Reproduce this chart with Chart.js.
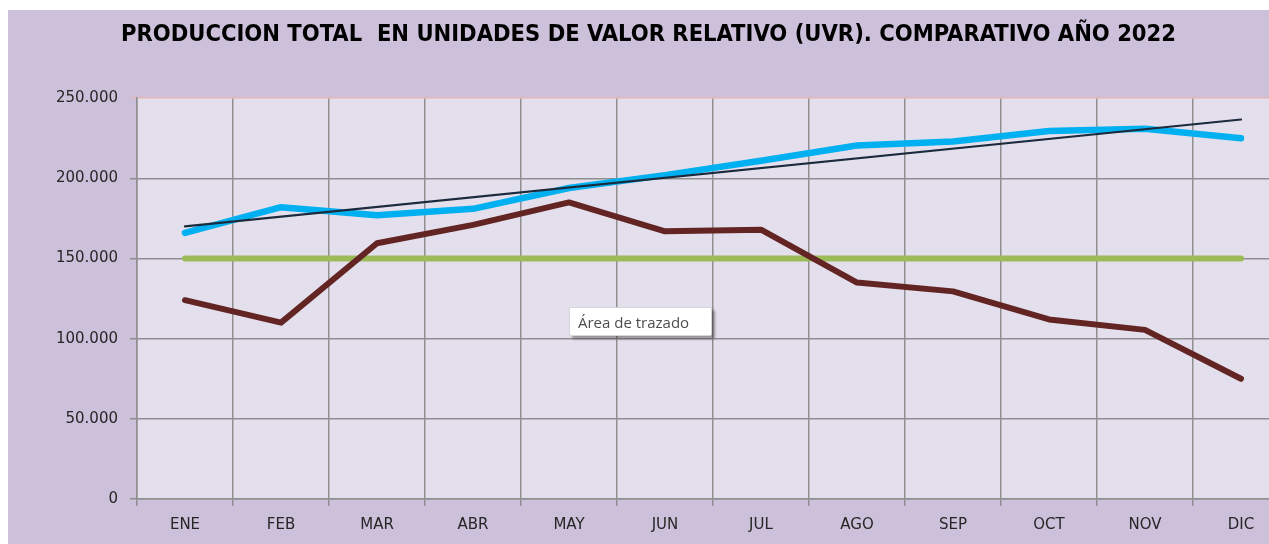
<!DOCTYPE html>
<html lang="es">
<head>
<meta charset="utf-8">
<title>Producción total UVR 2022</title>
<script src="https://cdn.jsdelivr.net/npm/chart.js@4.4.1/dist/chart.umd.min.js"></script>
<style>
  html, body { margin: 0; padding: 0; background: #fff; overflow: hidden; }
  #wrap { position: absolute; left: 8px; top: 10px; width: 1290px; height: 534px; background: #ccc0da; }
  #hint {
    position: absolute; left: 569px; top: 307px; width: 143px; height: 29px;
    background: #fff; border: 1px solid #d6d6d6; border-radius: 2px;
    box-shadow: 3px 3px 3px rgba(0,0,0,0.35);
    font: 15px "Open Sans", sans-serif; color: #4d4d4d; line-height: 29px;
    padding-left: 8px; box-sizing: border-box;
  }
</style>
</head>
<body>
<div id="wrap"><canvas id="chart-uvr" width="1290" height="534"></canvas></div>
<div id="hint">Área de trazado</div>
<script>
// meses
const meses = ['ENE', 'FEB', 'MAR', 'ABR', 'MAY', 'JUN', 'JUL', 'AGO', 'SEP', 'OCT', 'NOV', 'DIC'];

// series (UVR)
const produccion2022 = [166000, 182000, 177000, 181000, 194000, 202000, 211000, 220500, 223000, 229500, 231000, 225000];
const produccionComparada = [124000, 110000, 159500, 171000, 185000, 167000, 168000, 135000, 129500, 112000, 105500, 75000];
const meta = [150000, 150000, 150000, 150000, 150000, 150000, 150000, 150000, 150000, 150000, 150000, 150000];
// linea de tendencia: solo extremos, se unen con spanGaps
const tendencia = [170000, null, null, null, null, null, null, null, null, null, null, 236700];

const yTicks = [0, 50000, 100000, 150000, 200000, 250000];

/** 250000 -> "250.000" */
function fmtMiles(v) {
  return String(v).replace(/\B(?=(\d{3})+(?!\d))/g, '.');
}

// fondo del area de trazado
const plotBg = {
  id: 'plotBg',
  beforeDraw(chart) {
    const { ctx, chartArea: a } = chart;
    ctx.save();
    ctx.fillStyle = '#e4dfec';
    ctx.fillRect(a.left, a.top, a.right - a.left, a.bottom - a.top);
    ctx.restore();
  }
};

const canvas = document.getElementById('chart-uvr');
new Chart(canvas, {
  type: 'line',
  data: {
    labels: meses,
    datasets: [
      { label: 'Tendencia', data: tendencia, borderColor: '#1b2a3c', borderWidth: 2.2, spanGaps: true, pointRadius: 0 },
      { label: 'Producción 2022', data: produccion2022, borderColor: '#00b0f0', borderWidth: 6.5, pointRadius: 0 },
      { label: 'Producción comparada', data: produccionComparada, borderColor: '#632523', borderWidth: 6, pointRadius: 0 },
      { label: 'Meta', data: meta, borderColor: '#9bbb59', borderWidth: 6, pointRadius: 0 }
    ]
  },
  options: {
    responsive: false,
    animation: false,
    layout: { padding: { left: 0, right: 9, top: 0, bottom: 0 } },
    elements: { line: { tension: 0, borderCapStyle: 'round', borderJoinStyle: 'round' } },
    plugins: {
      legend: { display: false },
      tooltip: { enabled: false },
      title: {
        display: true,
        text: 'PRODUCCION TOTAL  EN UNIDADES DE VALOR RELATIVO (UVR). COMPARATIVO AÑO 2022',
        color: '#000',
        font: { family: '"Liberation Sans Narrow", "DejaVu Sans Condensed", sans-serif', size: 23.5, weight: 'bold' },
        padding: { top: 11, bottom: 49 }
      }
    },
    scales: {
      x: {
        offset: true,
        grid: { offset: true, color: '#8f8f8f', lineWidth: 1.5, tickLength: 7 },
        border: { color: '#8f8f8f', width: 1.5 },
        ticks: { color: '#262626', padding: 10, font: { family: '"DejaVu Sans", sans-serif', size: 15 } }
      },
      y: {
        min: 0,
        max: 250000,
        afterBuildTicks(scale) { scale.ticks = yTicks.map(v => ({ value: v })); },
        afterFit(scale) { scale.width = 129; },
        grid: {
          color: ctx => (ctx.tick && ctx.tick.value === 250000 ? '#e6b9b8' : '#8f8f8f'),
          lineWidth: 1.5,
          tickLength: 7
        },
        border: { color: '#8f8f8f', width: 1.5 },
        ticks: {
          color: '#262626',
          padding: 12,
          font: { family: '"DejaVu Sans", sans-serif', size: 15 },
          callback: v => fmtMiles(v)
        }
      }
    }
  },
  plugins: [plotBg]
});
</script>
</body>
</html>
